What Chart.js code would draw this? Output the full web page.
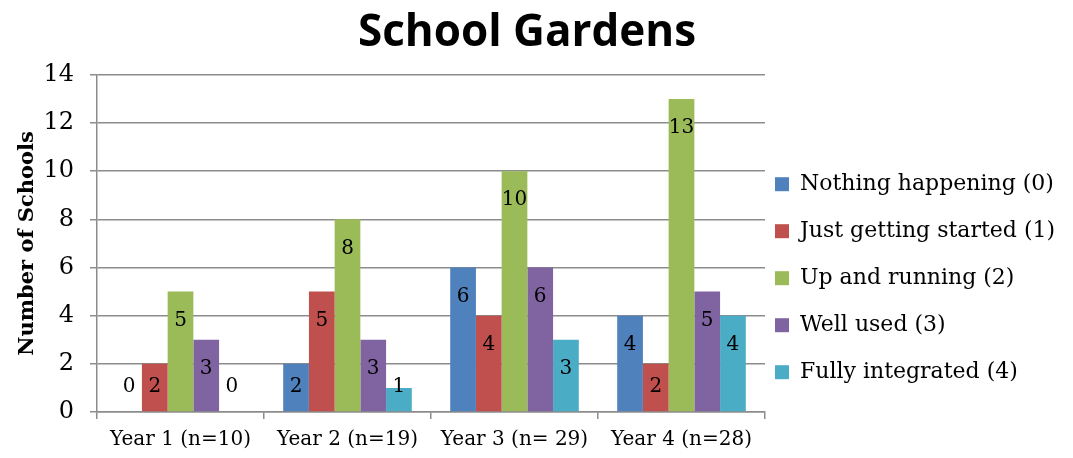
<!DOCTYPE html>
<html>
<head>
<meta charset="utf-8">
<title>School Gardens</title>
<script src="https://cdn.jsdelivr.net/npm/chart.js@4/dist/chart.umd.min.js"></script>
<style>
  html, body { margin: 0; padding: 0; background: #fff; }
  #wrap { width: 1073px; height: 458px; position: relative; }
</style>
</head>
<body>
<div id="wrap"><canvas id="myChart"></canvas></div>
<script>
// categories and stage counts per year
const years = ["Year 1 (n=10)", "Year 2 (n=19)", "Year 3 (n= 29)", "Year 4 (n=28)"];
const nothingHappening = [0, 2, 6, 4];
const justStarted = [2, 5, 4, 2];
const upAndRunning = [5, 8, 10, 13];
const wellUsed = [3, 3, 6, 5];
const fullyIntegrated = [0, 1, 3, 4];
const yTicks = [0, 2, 4, 6, 8, 10, 12, 14];

const serif = "'DejaVu Serif', serif";

// writes the value inside the top of each bar
const barLabels = {
  id: "barLabels",
  afterDatasetsDraw(chart) {
    const ctx = chart.ctx;
    const base = chart.scales.y.getPixelForValue(0);
    ctx.save();
    ctx.font = "20px " + serif;
    ctx.fillStyle = "#000";
    ctx.textAlign = "center";
    ctx.textBaseline = "middle";
    chart.data.datasets.forEach((ds, i) => {
      chart.getDatasetMeta(i).data.forEach((bar, j) => {
        const y = Math.min(bar.y + 29, base - 25);
        ctx.fillText(String(ds.data[j]), bar.x, y);
      });
    });
    ctx.restore();
  }
};

// pull the legend closer to the plot, title a little left
const nudge = {
  id: "nudge",
  afterLayout(chart) {
    chart.legend.left -= 15;
    chart.legend.right -= 15;
    chart.titleBlock.left -= 17;
    chart.titleBlock.right -= 17;
  }
};

const ctx = document.getElementById("myChart").getContext("2d");
const myChart = new Chart(ctx, {
  type: "bar",
  data: {
    labels: years,
    datasets: [
      { label: "Nothing happening (0)", data: nothingHappening, backgroundColor: "#4F81BD" },
      { label: "Just getting started (1)", data: justStarted, backgroundColor: "#C0504D" },
      { label: "Up and running (2)", data: upAndRunning, backgroundColor: "#9BBB59" },
      { label: "Well used (3)", data: wellUsed, backgroundColor: "#8064A2" },
      { label: "Fully integrated (4)", data: fullyIntegrated, backgroundColor: "#4BACC6" },
    ],
  },
  options: {
    responsive: true,
    maintainAspectRatio: false,
    animation: false,
    layout: { padding: { left: 15, right: 0, top: 0, bottom: 6 } },
    datasets: { bar: { categoryPercentage: 0.77, barPercentage: 1.0 } },
    plugins: {
      title: {
        display: true,
        text: "School Gardens",
        color: "#000",
        font: { family: "'Open Sans', sans-serif", size: 44, weight: "bold" },
        padding: { top: 7, bottom: 15 },
      },
      legend: {
        position: "right",
        align: "center",
        maxWidth: 308,
        title: { display: true, text: "", padding: 45 },
        labels: {
          color: "#000",
          font: { family: serif, size: 22 },
          boxWidth: 14,
          boxHeight: 14,
          padding: 25,
        },
      },
      tooltip: { enabled: false },
    },
    scales: {
      x: {
        afterFit: (axis) => { axis.height = 40; },
        grid: { drawOnChartArea: false, drawTicks: true, tickLength: 7, color: "#8c8c8c", lineWidth: 1.5 },
        border: { color: "#8c8c8c", width: 1.5 },
        ticks: { color: "#000", font: { family: serif, size: 20 }, padding: 9 },
      },
      y: {
        min: 0,
        max: 14,
        afterBuildTicks: (axis) => { axis.ticks = yTicks.map((v) => ({ value: v })); },
        afterFit: (axis) => { axis.width = 82; },
        grid: { color: "#8c8c8c", lineWidth: 1.5, tickLength: 7 },
        border: { color: "#8c8c8c", width: 1.5 },
        ticks: { color: "#000", font: { family: serif, size: 24 }, padding: 16 },
        title: {
          display: true,
          text: "Number of Schools",
          color: "#000",
          font: { family: serif, size: 21, weight: "bold" },
          padding: { top: 0, bottom: 6 },
        },
      },
    },
  },
  plugins: [barLabels, nudge],
});
</script>
</body>
</html>
